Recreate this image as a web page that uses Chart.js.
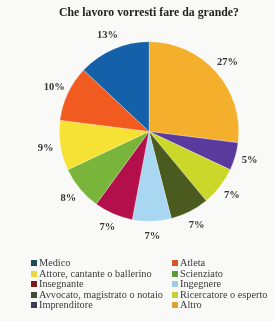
<!DOCTYPE html>
<html><head><meta charset="utf-8">
<script src="https://cdn.jsdelivr.net/npm/chart.js@4/dist/chart.umd.min.js"></script>
<style>
html,body{margin:0;padding:0;background:#f9f9f7;}
#wrap{position:relative;width:275px;height:321px;overflow:hidden;}
canvas{position:absolute;left:0;top:0;}
#legend{position:absolute;left:31px;top:258px;width:244px;font-family:"Liberation Serif",serif;font-size:10.3px;color:#3a3a3a;}
.item{position:absolute;white-space:nowrap;height:10px;line-height:10px;}
.box{display:inline-block;width:6px;height:6px;margin-right:2px;vertical-align:0px;}
</style></head>
<body><div id="wrap"><canvas id="c" width="275" height="321"></canvas><div id="legend"></div></div>
<script>
// Clockwise from 12 o'clock
const categories = ["Altro","Imprenditore","Ricercatore o esperto","Avvocato, magistrato o notaio","Ingegnere","Insegnante","Scienziato","Attore, cantante o ballerino","Atleta","Medico"];
const values = [27,5,7,7,7,7,8,9,10,13];
const colors = ["#f4b02c","#5b3a9e","#cbd82a","#4b5a1f","#a9d7f1","#b3104b","#79b43b","#f6e234","#f15b1f","#1561a9"];
const legendColors = ["#e2a232","#3b3a5a","#c4cf3a","#3f4a3a","#9fcbe3","#7a1a1a","#5e9a3a","#e8d940","#d9542a","#1f4a5a"];
const legendOrder = ["Medico","Atleta","Attore, cantante o ballerino","Scienziato","Insegnante","Ingegnere","Avvocato, magistrato o notaio","Ricercatore o esperto","Imprenditore","Altro"];
const title = "Che lavoro vorresti fare da grande?";

const labelPlugin = {
  id:'outLabels',
  afterDatasetsDraw(chart){
    const ctx = chart.ctx;
    const meta = chart.getDatasetMeta(0);
    ctx.save();
    ctx.font = "bold 10.5px 'Liberation Serif', serif";
    ctx.fillStyle = "#333";
    ctx.textAlign = "center";
    ctx.textBaseline = "middle";
    meta.data.forEach((arc,i)=>{
      const a = (arc.startAngle+arc.endAngle)/2;
      const r = arc.outerRadius + 15;
      const x = arc.x + Math.cos(a)*r;
      const y = arc.y + Math.sin(a)*r;
      ctx.fillText(values[i]+"%", x, y);
    });
    ctx.restore();
  }
};

new Chart(document.getElementById('c'),{
  type:'pie',
  data:{labels:categories,datasets:[{data:values,backgroundColor:colors,borderColor:'rgba(255,255,255,0.5)',borderWidth:0.5}]},
  options:{
    responsive:false,animation:false,
    layout:{padding:{left:59,right:36,top:0,bottom:99.5}},
    plugins:{
      legend:{display:false},tooltip:{enabled:false},
      title:{display:true,text:title,color:'#222',font:{family:"'Liberation Serif', serif",size:12.5,weight:'bold'},padding:{top:5.5,bottom:21}}
    }
  },
  plugins:[labelPlugin]
});

const leg = document.getElementById('legend');
legendOrder.forEach((name,k)=>{
  const i = categories.indexOf(name);
  const d = document.createElement('div');
  d.className='item';
  d.style.left = (k%2===0?0:141)+'px';
  d.style.top = (Math.floor(k/2)*10.5)+'px';
  d.innerHTML = '<span class="box" style="background:'+legendColors[i]+'"></span>'+name;
  leg.appendChild(d);
});
</script></body></html>
